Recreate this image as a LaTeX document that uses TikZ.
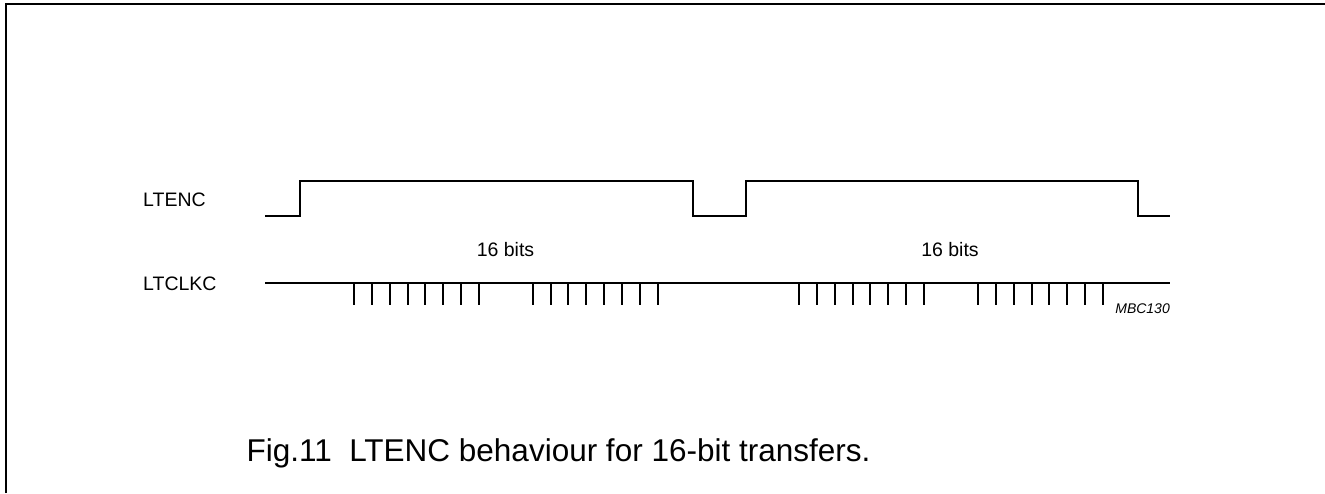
\documentclass[tikz,border=0pt]{standalone}
\usepackage{fontspec}
\setmainfont{Liberation Sans}
\usepackage{tikz}

\tikzset{
	sig/.style={line width=2pt, line join=miter},
	lbl/.style={inner sep=0pt, font=\fontsize{19.5}{22}\selectfont},
	tag/.style={inner sep=0pt, font=\fontsize{14}{16}\selectfont\itshape},
	capt/.style={inner sep=0pt, font=\fontsize{31.5}{36}\selectfont}
}

\begin{document}
\begin{tikzpicture}[x=1pt, y=-1pt]
	\useasboundingbox (0,0) rectangle (1325,493);
	% frame
	\draw[line width=2pt] (5.5,493) -- (5.5,4) -- (1325,4);

	% signal names
	\node[lbl, anchor=base west] (enc) at (143,206) {LTENC};
	\node[lbl, anchor=base west] (clk) at (143,290) {LTCLKC};

	% LTENC waveform
	\coordinate (e0) at (265,216);
	\coordinate (e1) at (300,216);
	\coordinate (e2) at (693,216);
	\coordinate (e3) at (746,216);
	\coordinate (e4) at (1138,216);
	\coordinate (e5) at (1170,216);
	\draw[sig] (e0) -- (e1) -- ++(0,-35.3) -| (e2) -- (e3) -- ++(0,-35.3) -| (e4) -- (e5);

	\node[lbl, anchor=base] (bitsa) at (505.5,256.5) {16 bits};
	\node[lbl, anchor=base] (bitsb) at (950,256.5) {16 bits};

	% LTCLKC waveform
	\coordinate (c0) at (265,283.3);
	\coordinate (c1) at (1170,283.3);
	\draw[sig] (c0) -- (c1);
	\foreach \s in {354,532.7,799,978}
		\foreach \k in {0,...,7}
			\draw[sig] (\s+17.85*\k,283.3) -- ++(0,22);

	\node[tag, anchor=base east] (mbc) at (1170,313) {MBC130};

	\node[capt, anchor=base] (cap) at (558.5,461) {Fig.11\ \ LTENC behaviour for 16-bit transfers.};
\end{tikzpicture}
\end{document}
